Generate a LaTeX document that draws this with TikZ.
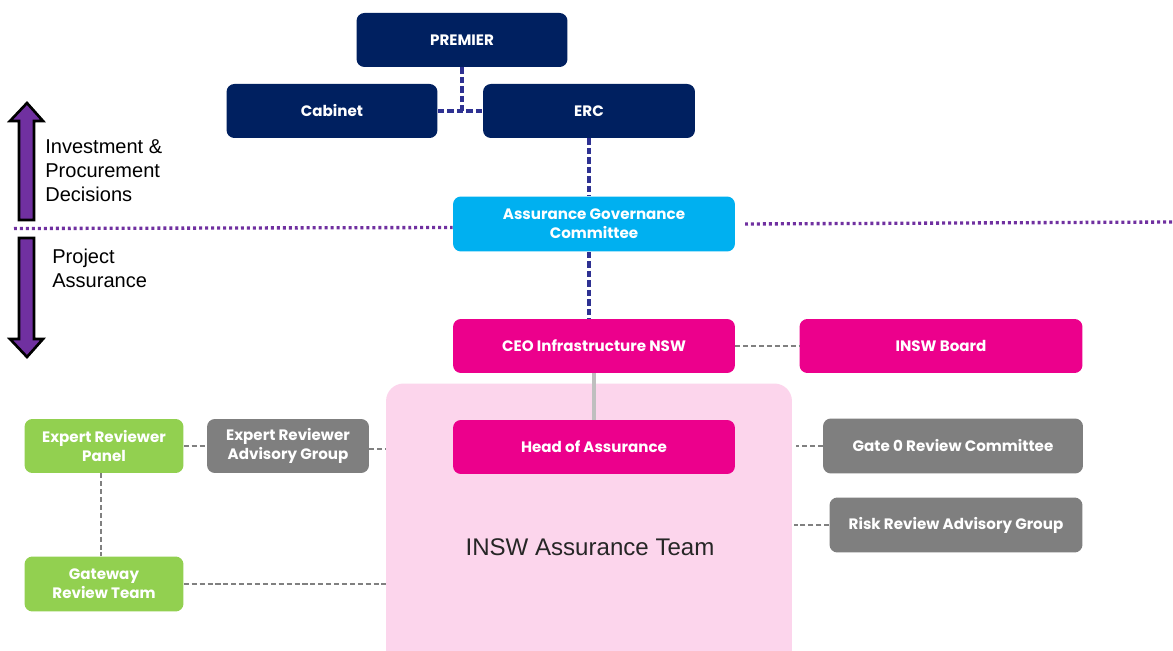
\documentclass[tikz,border=0pt]{standalone}
\usepackage{fontspec}
\setmainfont{Liberation Sans}
\newfontfamily\boxfamily{Poppins}
\usetikzlibrary{positioning,calc}

\definecolor{navybox}{RGB}{0,32,96}
\definecolor{navyline}{RGB}{46,49,146}
\definecolor{agcblue}{RGB}{0,176,240}
\definecolor{inswpink}{RGB}{236,0,140}
\definecolor{teampink}{RGB}{252,213,236}
\definecolor{revgreen}{RGB}{146,208,80}
\definecolor{advgrey}{RGB}{127,127,127}
\definecolor{linkgrey}{RGB}{128,128,128}
\definecolor{splitpurple}{RGB}{112,48,160}

\tikzset{
  box/.style={rounded corners=4.5pt, text=white, align=center, inner sep=0pt,
    minimum height=1.08cm, font=\boxfamily\bfseries\fontsize{8.6}{11}\selectfont},
  navydash/.style={draw=navyline, line width=2pt, dash pattern=on 3.6pt off 1.8pt},
  greydash/.style={draw=linkgrey, line width=1.3pt, dash pattern=on 2.9pt off 1.6pt},
  splitline/.style={draw=splitpurple, line width=1.9pt, dash pattern=on 1.7pt off 1.7pt},
  bigarrow/.style={fill=splitpurple, draw=black, line width=1.5pt, line join=miter},
  sidetext/.style={align=left, anchor=west, inner sep=0pt,
    font=\fontsize{11.4}{13.6}\selectfont}
}

\begin{document}
\begin{tikzpicture}[x=0.02cm,y=-0.02cm]
\useasboundingbox (0,0) rectangle (1173,651);
\fill[white] (0,0) rectangle (1173,651);
\clip (0,0) rectangle (1173,651);

% team container
\node[fill=teampink, rounded corners=10pt, minimum width=8.12cm, minimum height=5.9cm, inner sep=0pt] (team) at (589,531) {};
\node[font=\fontsize{13.7}{15}\selectfont, text=black!85] (teamlabel) at (590,547) {INSW Assurance Team};

% top level
\node[box, fill=navybox, minimum width=4.22cm] (premier) at (462,40) {PREMIER};
\node[box, fill=navybox, minimum width=4.22cm] (cabinet) at (332,111) {Cabinet};
\node[box, fill=navybox, minimum width=4.24cm] (erc) at (589,111) {ERC};
\node[box, fill=agcblue, minimum width=5.64cm, minimum height=1.1cm] (agc) at (594,224) {Assurance Governance\\Committee};

% infrastructure nsw
\node[box, fill=inswpink, minimum width=5.64cm] (ceo) at (594,346) {CEO Infrastructure NSW};
\node[box, fill=inswpink, minimum width=5.66cm] (board) at (941,346) {INSW Board};
\node[box, fill=inswpink, minimum width=5.64cm] (head) at (594,447) {Head of Assurance};
\node[box, fill=advgrey, minimum width=5.2cm, minimum height=1.1cm] (gatezero) at (953,446) {Gate 0 Review Committee};
\node[box, fill=advgrey, minimum width=5.06cm, minimum height=1.1cm] (riskgroup) at (956,525) {Risk Review Advisory Group};

% reviewers
\node[box, fill=revgreen, minimum width=3.18cm] (panel) at (104,446) {Expert Reviewer\\Panel};
\node[box, fill=advgrey, minimum width=3.24cm] (advgroup) at (288,446) {Expert Reviewer\\Advisory Group};
\node[box, fill=revgreen, minimum width=3.18cm, minimum height=1.1cm] (gateway) at (104,584) {Gateway\\Review Team};

% links
\draw[navydash] (cabinet.east) -- (erc.west);
\draw[navydash] (premier.south) -- (premier.south |- cabinet.east);
\draw[navydash] (erc.south) -- (erc.south |- agc.north);
\draw[navydash] (agc.south -| erc.south) -- (ceo.north -| erc.south);
\draw[draw=black!25, line width=2.2pt] (ceo.south) -- (head.north);
\draw[greydash] (ceo.east) -- (board.west);
\draw[greydash] (gatezero.west) -- ($(gatezero.west -| team.east)+(4,0)$);
\draw[greydash] (riskgroup.west) -- ($(riskgroup.west -| team.east)+(2,0)$);
\draw[greydash] (panel.east) -- (advgroup.west);
\draw[greydash] ($(advgroup.east)+(0,3)$) -- ($(advgroup.east -| team.west)+(0,3)$);
\draw[greydash] (gateway.east) -- (gateway.east -| team.west);
\draw[greydash] ($(panel.south)+(-3,0)$) -- ($(gateway.north)+(-3,0)$);

% split between decisions and assurance
\draw[splitline] (14,228.5) -- (agc.west |- 0,227.5);
\draw[splitline] (745,224) -- (1173,222);

% arrows
\draw[bigarrow] (27,103) -- (43,121) -- (34,121) -- (34,220) -- (19,220) -- (19,121) -- (10,121) -- cycle;
\draw[bigarrow] (27,357) -- (43,339) -- (34,339) -- (34,238) -- (19,238) -- (19,339) -- (10,339) -- cycle;
\node[sidetext] (decisions) at (45,171) {Investment \&\\Procurement\\Decisions};
\node[sidetext] (assurance) at (52,268) {Project\\Assurance};
\end{tikzpicture}
\end{document}
